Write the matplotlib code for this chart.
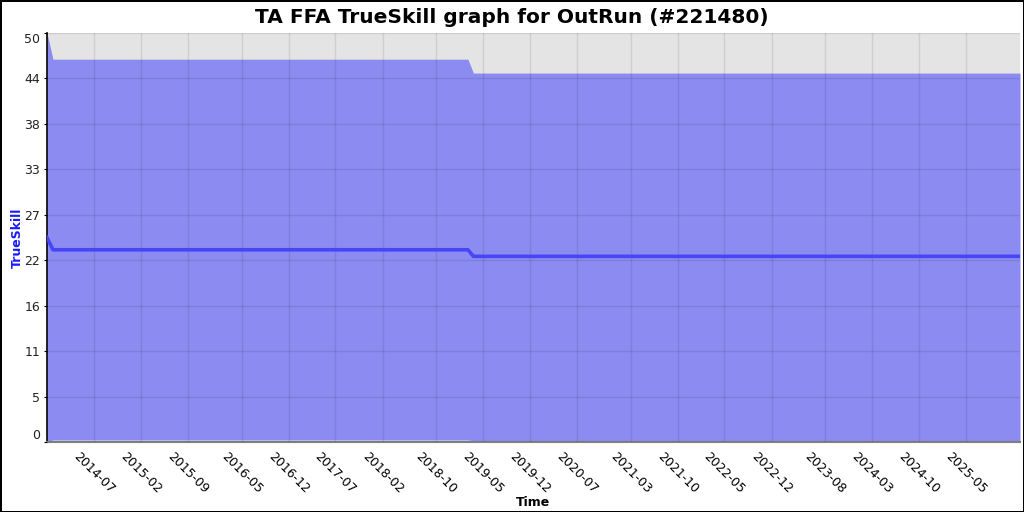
import matplotlib
matplotlib.use("Agg")
import matplotlib.pyplot as plt
from datetime import datetime

# dados
datas = ["2013-11-30", "2013-12-27", "2019-02-22", "2019-03-19", "2026-01-01"]
media = [25.0, 23.5, 23.5, 22.7, 22.7]
superior = [50.0, 46.8, 46.8, 45.1, 45.1]
inferior = [0.0, 0.25, 0.25, 0.15, 0.15]

ticks_x = ["2014-07", "2015-02", "2015-09", "2016-05", "2016-12", "2017-07",
           "2018-02", "2018-10", "2019-05", "2019-12", "2020-07", "2021-03",
           "2021-10", "2022-05", "2022-12", "2023-08", "2024-03", "2024-10",
           "2025-05"]
ticks_y = [50 * k / 9 for k in range(10)]

x = [datetime.strptime(d, "%Y-%m-%d") for d in datas]
xt = [datetime.strptime(t, "%Y-%m") for t in ticks_x]

fig = plt.figure(figsize=(10.24, 5.12), dpi=100, linewidth=1, edgecolor="black")
ax = fig.add_axes([47 / 1024, 70 / 512, 973 / 1024, 409 / 512])
ax.set_facecolor("#e4e4e4")

ax.fill_between(x, inferior, superior, color="#8b8bf1", linewidth=0, zorder=1)
ax.plot(x, media, color="#4646f6", linewidth=2.6, zorder=3)

ax.set_xlim(x[0], x[-1])
ax.set_ylim(0, 50)

ax.set_xticks(xt)
ax.set_xticklabels(ticks_x, rotation=-45, ha="center", va="top", fontsize=9)
ax.set_yticks(ticks_y)
labs = ax.set_yticklabels([str(int(v)) for v in ticks_y], fontsize=9, color="#222222")
labs[0].set_va("bottom")
labs[-1].set_va("top")

ax.grid(True, color="black", alpha=0.09, linewidth=1, zorder=2)
ax.set_axisbelow(False)
ax.tick_params(axis="x", length=0, pad=6)
ax.tick_params(axis="y", length=2, pad=3)

for s in ["top", "right"]:
    ax.spines[s].set_visible(False)
ax.spines["left"].set_color("black")
ax.spines["left"].set_linewidth(1.2)
ax.spines["bottom"].set_color("#808080")
ax.spines["bottom"].set_linewidth(1.5)

ax.set_xlabel("Time", fontsize=9, fontweight="bold", labelpad=0)
ax.set_ylabel("TrueSkill", fontsize=9, fontweight="bold", color="#1a1aff", labelpad=0)
fig.suptitle("TA FFA TrueSkill graph for OutRun (#221480)", fontsize=14.5,
             fontweight="bold", y=0.985)

fig.savefig("out.png", dpi=100)
